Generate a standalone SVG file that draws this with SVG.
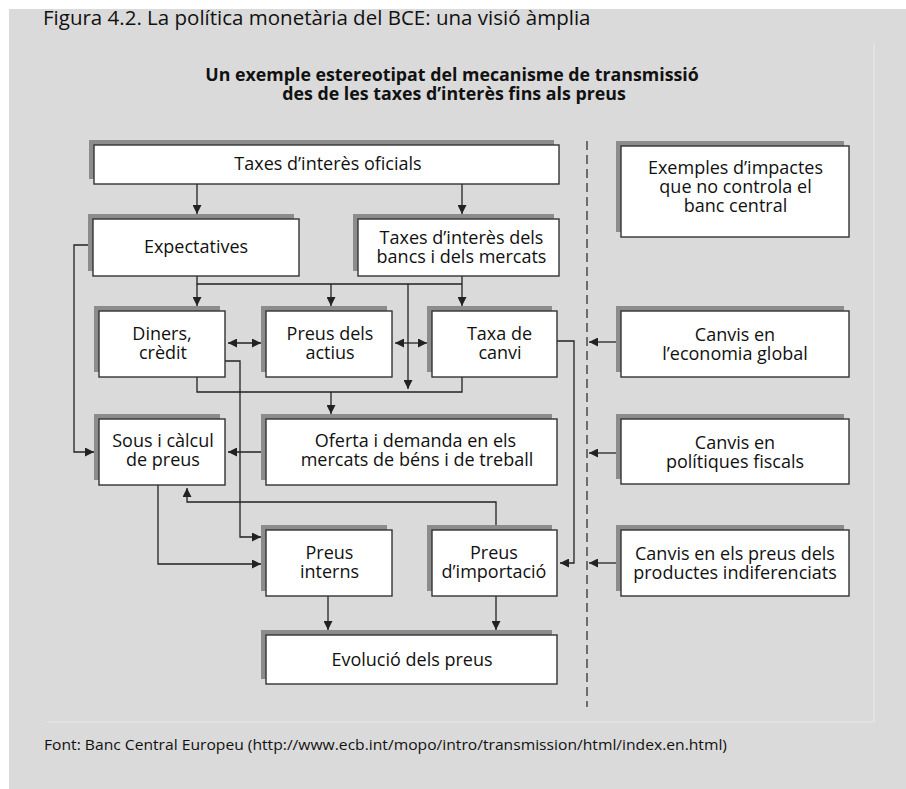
<svg xmlns="http://www.w3.org/2000/svg" width="906" height="789" viewBox="0 0 906 789">
<defs>
<style>
.bg{fill:#dadada}
.sh{fill:#8c8c8c}
.bx{fill:#ffffff;stroke:#333;stroke-width:1.4}
.t{font-family:"Open Sans","Noto Sans",sans-serif;font-size:18px;fill:#111;text-anchor:middle}
.ln{fill:none;stroke:#222;stroke-width:1.3}
.ar{marker-end:url(#ah)}
.da{marker-start:url(#ah);marker-end:url(#ah)}
</style>
<marker id="ah" markerUnits="userSpaceOnUse" markerWidth="9" markerHeight="9" viewBox="0 0 9 9" refX="9" refY="4.5" orient="auto-start-reverse">
<path d="M0,0 L9,4.5 L0,9 z" fill="#222"/>
</marker>
</defs>
<rect class="bg" x="9" y="9" width="897" height="780"/>
<polyline points="874,43 874,722 47,722" fill="none" stroke="#e8e8e8" stroke-width="1.2"/>
<text x="43" y="25" font-family="'Open Sans','Noto Sans',sans-serif" font-size="20.5" fill="#111">Figura 4.2. La política monetària del BCE: una visió àmplia</text>
<text font-family="'Open Sans','Noto Sans',sans-serif" font-size="17.8" font-weight="bold" fill="#111" text-anchor="middle"><tspan x="452" y="81">Un exemple estereotipat del mecanisme de transmissió</tspan><tspan x="454" y="100">des de les taxes d’interès fins als preus</tspan></text>
<text x="44" y="750" font-family="'Open Sans','Noto Sans',sans-serif" font-size="14" fill="#111" textLength="683" lengthAdjust="spacingAndGlyphs">Font: Banc Central Europeu (http://www.ecb.int/mopo/intro/transmission/html/index.en.html)</text>

<line x1="587" y1="141" x2="587" y2="707" stroke="#333" stroke-width="1.3" stroke-dasharray="9,5"/>

<g id="connectors">
<path class="ln ar" d="M197,184 V214"/>
<path class="ln ar" d="M462,184 V214"/>
<path class="ln" d="M197,276 V284 H462 M462,276 V284"/>
<path class="ln ar" d="M197,284 V306"/>
<path class="ln ar" d="M331,284 V306"/>
<path class="ln ar" d="M462,284 V306"/>
<path class="ln ar" d="M408,284 V389"/>
<path class="ln da" d="M228,343 H261"/>
<path class="ln da" d="M395,343 H427"/>
<path class="ln" d="M197,377 V392 H462 V377"/>
<path class="ln ar" d="M331,392 V414"/>
<path class="ln ar" d="M266,452 H228"/>
<path class="ln ar" d="M93,245 H74 V452 H94"/>
<path class="ln ar" d="M225,361 H240 V537 H261"/>
<path class="ln ar" d="M158,485 V564 H261"/>
<path class="ln ar" d="M496,525 V502 H187 V488"/>
<path class="ln ar" d="M557,341 H574 V563 H560"/>
<path class="ln ar" d="M328,596 V630"/>
<path class="ln ar" d="M496,596 V630"/>
<path class="ln ar" d="M621,342 H589"/>
<path class="ln ar" d="M621,453 H589"/>
<path class="ln ar" d="M621,563 H589"/>
</g>

<g id="n-oficials">
<rect class="sh" x="89" y="140" width="465" height="39"/>
<rect class="bx" x="94" y="145" width="465" height="39"/>
<text class="t" x="328" y="169.5">Taxes d’interès oficials</text>
</g>
<g id="n-expectatives">
<rect class="sh" x="88" y="214" width="206" height="57"/>
<rect class="bx" x="93" y="219" width="206" height="57"/>
<text class="t" x="196" y="253">Expectatives</text>
</g>
<g id="n-bancs">
<rect class="sh" x="353" y="214" width="201" height="57"/>
<rect class="bx" x="358" y="219" width="201" height="57"/>
<text class="t"><tspan x="461.5" y="244">Taxes d’interès dels</tspan><tspan x="461.5" y="263">bancs i dels mercats</tspan></text>
</g>
<g id="n-diners">
<rect class="sh" x="94" y="306" width="126" height="66"/>
<rect class="bx" x="99" y="311" width="126" height="66"/>
<text class="t"><tspan x="162" y="340">Diners,</tspan><tspan x="163" y="359">crèdit</tspan></text>
</g>
<g id="n-actius">
<rect class="sh" x="261" y="306" width="126" height="66"/>
<rect class="bx" x="266" y="311" width="126" height="66"/>
<text class="t"><tspan x="330" y="340">Preus dels</tspan><tspan x="330" y="359">actius</tspan></text>
</g>
<g id="n-canvi">
<rect class="sh" x="427" y="306" width="125" height="66"/>
<rect class="bx" x="432" y="311" width="125" height="66"/>
<text class="t"><tspan x="499.5" y="340">Taxa de</tspan><tspan x="500" y="359">canvi</tspan></text>
</g>
<g id="n-sous">
<rect class="sh" x="94" y="414" width="126" height="66"/>
<rect class="bx" x="99" y="419" width="126" height="66"/>
<text class="t"><tspan x="163" y="447">Sous i càlcul</tspan><tspan x="163" y="466">de preus</tspan></text>
</g>
<g id="n-oferta">
<rect class="sh" x="261" y="414" width="291" height="66"/>
<rect class="bx" x="266" y="419" width="291" height="66"/>
<text class="t"><tspan x="415.5" y="447">Oferta i demanda en els</tspan><tspan x="417" y="466">mercats de béns i de treball</tspan></text>
</g>
<g id="n-interns">
<rect class="sh" x="261" y="525" width="126" height="66"/>
<rect class="bx" x="266" y="530" width="126" height="66"/>
<text class="t"><tspan x="329.5" y="559">Preus</tspan><tspan x="329.5" y="578">interns</tspan></text>
</g>
<g id="n-importacio">
<rect class="sh" x="427" y="525" width="125" height="66"/>
<rect class="bx" x="432" y="530" width="125" height="66"/>
<text class="t"><tspan x="494" y="559">Preus</tspan><tspan x="494" y="578">d’importació</tspan></text>
</g>
<g id="n-evolucio">
<rect class="sh" x="261" y="630" width="291" height="49"/>
<rect class="bx" x="266" y="635" width="291" height="49"/>
<text class="t" x="412" y="666">Evolució dels preus</text>
</g>
<g id="n-exemples">
<rect class="sh" x="616" y="141" width="228" height="91"/>
<rect class="bx" x="621" y="146" width="228" height="91"/>
<text class="t"><tspan x="735.5" y="174">Exemples d’impactes</tspan><tspan x="735.5" y="193">que no controla el</tspan><tspan x="735.5" y="212">banc central</tspan></text>
</g>
<g id="n-global">
<rect class="sh" x="616" y="306" width="228" height="66"/>
<rect class="bx" x="621" y="311" width="228" height="66"/>
<text class="t"><tspan x="735" y="341">Canvis en</tspan><tspan x="735" y="360">l’economia global</tspan></text>
</g>
<g id="n-fiscals">
<rect class="sh" x="616" y="414" width="228" height="65"/>
<rect class="bx" x="621" y="419" width="228" height="65"/>
<text class="t"><tspan x="735" y="449">Canvis en</tspan><tspan x="735" y="468">polítiques fiscals</tspan></text>
</g>
<g id="n-productes">
<rect class="sh" x="616" y="525" width="228" height="66"/>
<rect class="bx" x="621" y="530" width="228" height="66"/>
<text class="t"><tspan x="735" y="560">Canvis en els preus dels</tspan><tspan x="735" y="579">productes indiferenciats</tspan></text>
</g>
</svg>
